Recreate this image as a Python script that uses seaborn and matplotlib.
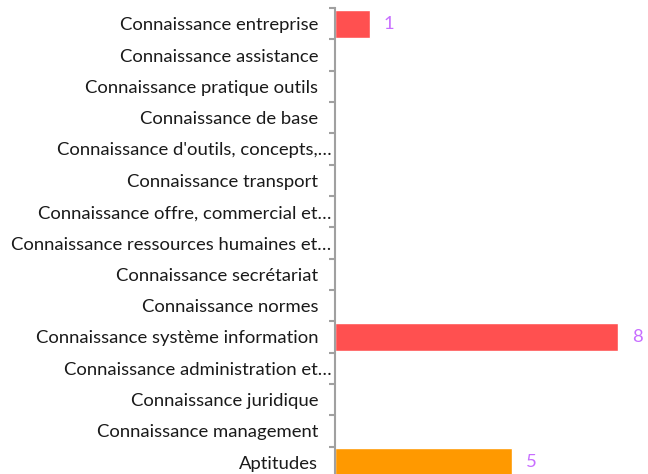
import pandas as pd
import numpy as np
import seaborn as sns
import matplotlib.pyplot as plt
from matplotlib.transforms import ScaledTranslation

categories = ['Connaissance entreprise', 'Connaissance assistance', 'Connaissance pratique outils',
              'Connaissance de base', "Connaissance d'outils, concepts,…", 'Connaissance transport',
              'Connaissance offre, commercial et…', 'Connaissance ressources humaines et…',
              'Connaissance secrétariat', 'Connaissance normes', 'Connaissance système information',
              'Connaissance administration et…', 'Connaissance juridique', 'Connaissance management',
              'Aptitudes']
values = [1, 0, 0, 0, 0, 0, 0, 0, 0, 0, 8, 0, 0, 0, 5]
colors = ['#FF5050'] * 14 + ['#FF9900']

df = pd.DataFrame({'cat': categories, 'val': values})

sns.set_style('white')
plt.rcParams['font.family'] = ['Lato', 'DejaVu Sans']

fig = plt.figure(figsize=(6.48, 4.74), dpi=100)
ax = fig.add_axes([335 / 648, -4 / 474, 313 / 648, 470 / 474])
sns.barplot(data=df, y='cat', x='val', hue='cat', palette=colors, legend=False,
            orient='h', width=0.9, ax=ax, saturation=1)

ax.set_xlim(0, 313 / 35.4)
ax.set_ylim(len(categories) - 0.5, -0.5)
ax.set_xlabel('')
ax.set_ylabel('')
ax.set_xticks([])
for s in ['top', 'right', 'bottom']:
    ax.spines[s].set_visible(False)
ax.spines['left'].set_color('#A0A0A0')
ax.spines['left'].set_linewidth(1.5)

ax.set_yticks(np.arange(len(categories)) - 0.5, minor=True)
ax.tick_params(axis='y', which='major', length=0, pad=12, labelsize=13.3, labelcolor='#1a1a1a')
ax.tick_params(axis='y', which='minor', length=4, width=1.5, color='#A0A0A0', left=True)

# truncated labels sit closer to the axis in the original
for lab in ax.get_yticklabels():
    if lab.get_text().endswith('…'):
        lab.set_transform(lab.get_transform() + ScaledTranslation(0.13, 0, fig.dpi_scale_trans))

for i, v in enumerate(values):
    if v > 0:
        ax.text(v + 0.38, i, str(v), va='center', ha='left', fontsize=13.3, color='#C86EFF')

fig.savefig('out.png', dpi=100)
